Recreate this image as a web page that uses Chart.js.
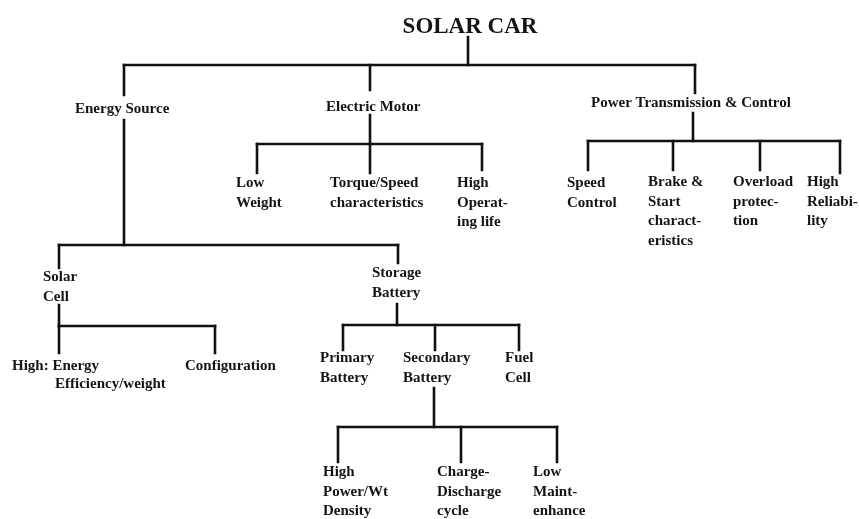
<!DOCTYPE html>
<html>
<head>
<meta charset="utf-8">
<script src="https://cdn.jsdelivr.net/npm/chart.js@4/dist/chart.umd.min.js"></script>
<style>
  html, body { margin: 0; padding: 0; background: #fff; }
  #caja { width: 859px; height: 519px; position: relative; }
</style>
</head>
<body>
<div id="caja"><canvas id="arbol"></canvas></div>
<script>
// ramas: tallo del padre, barra horizontal y bajadas a cada hijo
const tallosX = [468, 124, 370, 693, 59, 397, 434]
const tallosArriba = [37, 120, 115, 113, 305, 304, 388]
const barrasY = [65, 245, 144, 141, 326, 325, 427]
const bajadasX = [[124, 370, 695], [59, 398], [257, 370, 482], [588, 673, 760, 840], [59, 215], [343, 435, 519], [338, 461, 557]]
const bajadasFin = [[95, 90, 93], [268, 263], [173, 173, 170], [170, 170, 170, 173], [353, 353], [350, 350, 350], [462, 462, 462]]

// textos de los nodos
const etiquetas = [
  ['SOLAR CAR'],
  ['Energy Source'],
  ['Electric Motor'],
  ['Power Transmission & Control'],
  ['Low', 'Weight'],
  ['Torque/Speed', 'characteristics'],
  ['High', 'Operat-', 'ing life'],
  ['Speed', 'Control'],
  ['Brake &', 'Start', 'charact-', 'eristics'],
  ['Overload', 'protec-', 'tion'],
  ['High', 'Reliabi-', 'lity'],
  ['Solar', 'Cell'],
  ['Storage', 'Battery'],
  ['High: Energy'],
  ['Efficiency/weight'],
  ['Configuration'],
  ['Primary', 'Battery'],
  ['Secondary', 'Battery'],
  ['Fuel', 'Cell'],
  ['High', 'Power/Wt', 'Density'],
  ['Charge-', 'Discharge', 'cycle'],
  ['Low', 'Maint-', 'enhance']
]
const etiquetasX = [470, 75, 326, 591, 236, 330, 457, 567, 648, 733, 807, 43, 372, 12, 55, 185, 320, 403, 505, 323, 437, 533]
const etiquetasY = [27, 109, 107, 103, 183, 183, 183, 183, 182, 182, 182, 277, 273, 366, 384, 366, 358, 358, 358, 472, 472, 472]

//
function segmento (x1, y1, x2, y2) {
  return {
    data: [{ x: x1, y: y1 }, { x: x2, y: y2 }],
    showLine: true,
    borderColor: '#111',
    borderWidth: 2.6,
    pointRadius: 0,
    borderCapStyle: 'square'
  }
}

let datasets = []
tallosX.forEach((tx, i) => {
  let xs = bajadasX[i].concat([tx])
  let izq = Math.min(...xs); let der = Math.max(...xs)
  datasets.push(segmento(tx, tallosArriba[i], tx, barrasY[i]))
  datasets.push(segmento(izq, barrasY[i], der, barrasY[i]))
  bajadasX[i].forEach((bx, j) => {
    datasets.push(segmento(bx, barrasY[i], bx, bajadasFin[i][j]))
  })
})

const textos = {
  id: 'textos',
  afterDatasetsDraw (chart) {
    let ctx = chart.ctx
    let sx = chart.scales.x; let sy = chart.scales.y
    ctx.save()
    ctx.fillStyle = '#141414'
    ctx.textBaseline = 'middle'
    etiquetas.forEach((lineas, i) => {
      let px = sx.getPixelForValue(etiquetasX[i])
      let py = sy.getPixelForValue(etiquetasY[i])
      if (i === 0) {
        ctx.font = 'bold 23px "Liberation Serif", "DejaVu Serif", serif'
        ctx.textAlign = 'center'
      } else {
        ctx.font = 'bold 15px "Liberation Serif", "DejaVu Serif", serif'
        ctx.textAlign = 'left'
      }
      lineas.forEach((linea, k) => {
        ctx.fillText(linea, px, py + k * 19.7)
      })
    })
    ctx.restore()
  }
}

let ctx = document.getElementById('arbol').getContext('2d')
let arbol = new Chart(ctx, {
  type: 'scatter',
  data: { datasets: datasets },
  plugins: [textos],
  options: {
    responsive: true,
    maintainAspectRatio: false,
    animation: false,
    events: [],
    layout: { padding: 0 },
    plugins: {
      legend: { display: false },
      tooltip: { enabled: false }
    },
    scales: {
      x: { type: 'linear', min: 0, max: 859, display: false },
      y: { type: 'linear', min: 0, max: 519, reverse: true, display: false }
    }
  }
})
</script>
</body>
</html>
